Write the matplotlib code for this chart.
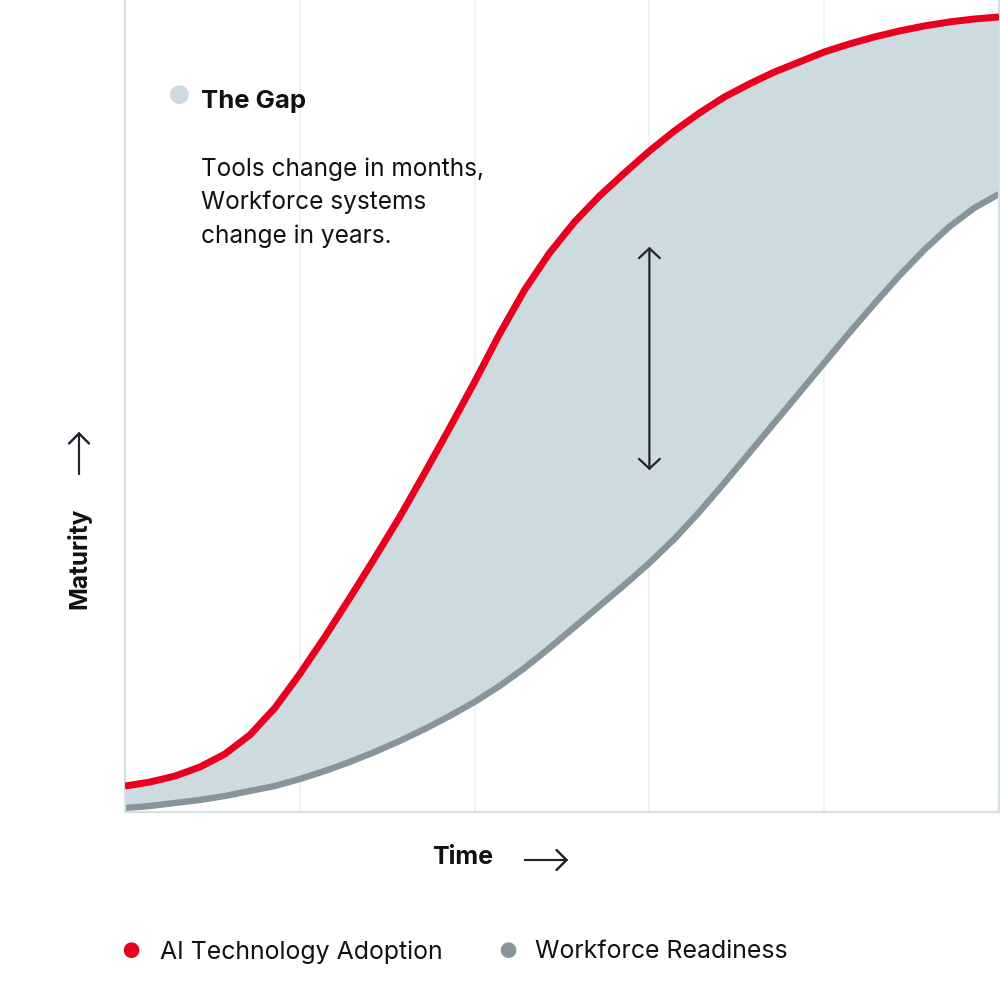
import matplotlib.pyplot as plt
import numpy as np

plt.rcParams['font.family'] = ['Inter', 'DejaVu Sans']

# time steps (arbitrary units) and maturity (0-100)
time = np.arange(0, 36)
ai_adoption = [3.20, 3.69, 4.43, 5.54, 7.14, 9.48, 12.81, 17.00, 21.55, 26.35,
               31.28, 36.33, 41.75, 47.29, 52.96, 58.87, 64.29, 68.84, 72.66, 75.86,
               78.69, 81.40, 83.87, 86.08, 88.05, 89.66, 91.13, 92.36, 93.60, 94.58,
               95.44, 96.18, 96.80, 97.29, 97.66, 97.91]
workforce = [0.49, 0.74, 1.11, 1.48, 1.97, 2.59, 3.20, 4.06, 5.05, 6.16,
             7.39, 8.74, 10.22, 11.82, 13.55, 15.52, 17.73, 20.20, 22.78, 25.37,
             27.96, 30.67, 33.62, 36.95, 40.52, 44.21, 47.91, 51.60, 55.30, 58.99,
             62.56, 66.01, 69.21, 72.04, 74.38, 76.11]
grid_x = [7, 14, 21, 28]
gap_arrow_x = 21
gap_arrow_y = (42.1, 69.6)

red = '#E8001C'
grey = '#87959B'
fill = '#CDDADF'
ink = '#22252E'
txt = '#111111'

fig = plt.figure(figsize=(10, 10), dpi=100)
ax = fig.add_axes([0.125, 0.188, 0.874, 0.812])

for gx in grid_x:
    ax.axvline(gx, color='#EDF1F2', lw=1.2, zorder=0)

ax.fill_between(time, workforce, ai_adoption, color=fill, lw=0, zorder=1)
ax.plot(time, workforce, color=grey, lw=4.6, solid_capstyle='butt',
        solid_joinstyle='round', zorder=2)
ax.plot(time, ai_adoption, color=red, lw=5.0, solid_capstyle='butt',
        solid_joinstyle='round', zorder=3)

head = '<->, head_length=0.7, head_width=0.75'
ax.annotate('', xy=(gap_arrow_x, gap_arrow_y[1]), xytext=(gap_arrow_x, gap_arrow_y[0]),
            arrowprops=dict(arrowstyle=head, color=ink, lw=1.6, shrinkA=0, shrinkB=0),
            zorder=4)

ax.set_xlim(0, 35)
ax.set_ylim(0, 100)
ax.set_xticks([])
ax.set_yticks([])
ax.spines['top'].set_visible(False)
for s in ['left', 'bottom', 'right']:
    ax.spines[s].set_color('#D5E0E3')
    ax.spines[s].set_linewidth(1.6)

# gap annotation
fig.text(0.179, 0.902, '●', color=fill, fontsize=18, ha='center', va='center')
fig.text(0.201, 0.892, 'The Gap', fontsize=18.5, fontweight='bold', color=txt,
         ha='left', va='baseline')
gap_lines = ['Tools change in months,', 'Workforce systems', 'change in years.']
for line, yb in zip(gap_lines, [0.824, 0.791, 0.757]):
    fig.text(0.201, yb, line, fontsize=17.6, color=txt, ha='left', va='baseline')

# axis labels with arrows
one_way = '->, head_length=0.72, head_width=0.72'
fig.text(0.079, 0.442, 'Maturity', rotation=90, fontsize=17.6, fontweight='bold',
         ha='center', va='center', color=txt)
fig.add_artist(plt.annotate('', xy=(0.079, 0.568), xytext=(0.079, 0.526),
                            xycoords='figure fraction',
                            arrowprops=dict(arrowstyle=one_way, color=ink, lw=1.5,
                                            shrinkA=0, shrinkB=0)))
fig.text(0.463, 0.142, 'Time', fontsize=18, fontweight='bold', ha='center', va='center',
         color=txt)
fig.add_artist(plt.annotate('', xy=(0.568, 0.140), xytext=(0.525, 0.140),
                            xycoords='figure fraction',
                            arrowprops=dict(arrowstyle=one_way, color=ink, lw=1.5,
                                            shrinkA=0, shrinkB=0)))

# legend
fig.text(0.131, 0.048, '●', color=red, fontsize=15, ha='center', va='center')
fig.text(0.160, 0.048, 'AI Technology Adoption', fontsize=17.9, ha='left', va='center',
         color=txt)
fig.text(0.508, 0.048, '●', color=grey, fontsize=15, ha='center', va='center')
fig.text(0.535, 0.048, 'Workforce Readiness', fontsize=17.9, ha='left', va='center',
         color=txt)

fig.savefig('out.png', dpi=100)
